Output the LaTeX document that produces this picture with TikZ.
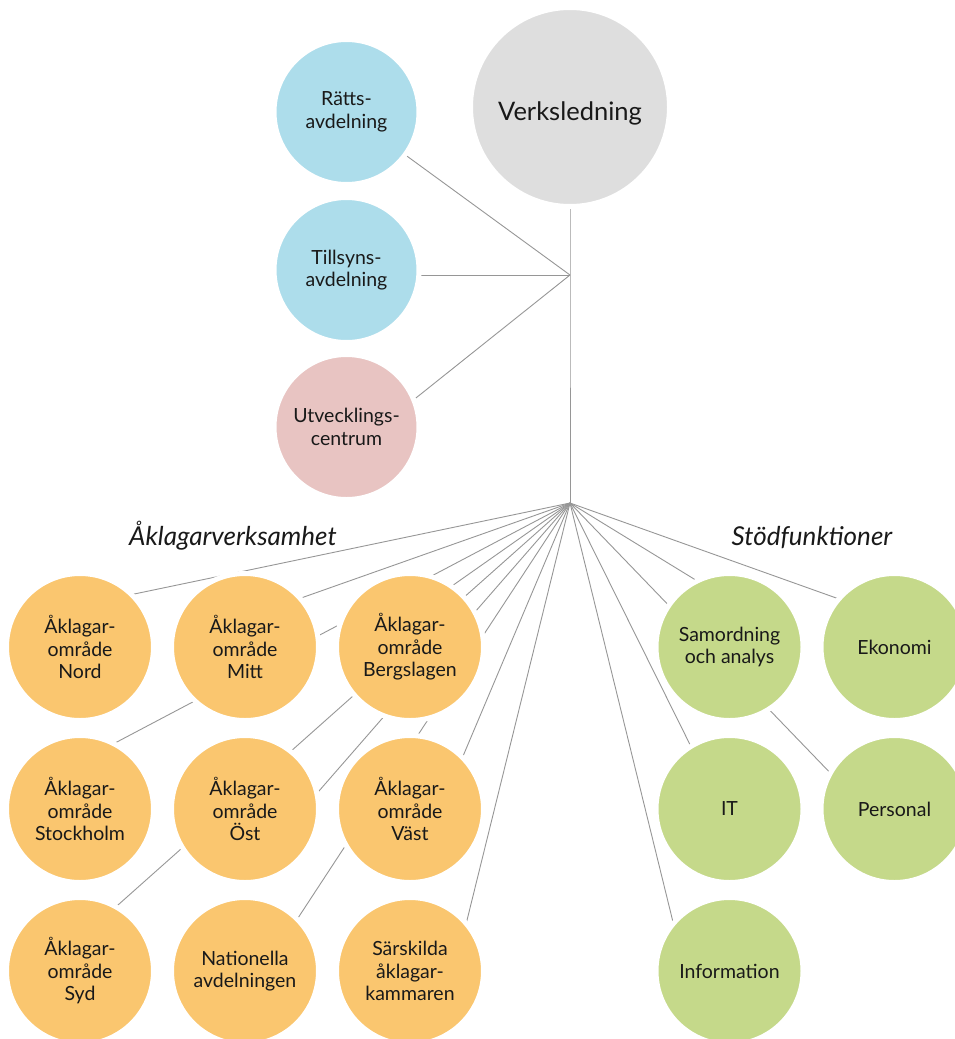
\documentclass[tikz,border=0pt]{standalone}
\usepackage{fontspec}
\setmainfont{Lato}
\usetikzlibrary{positioning,calc,backgrounds}

\definecolor{blaa}{RGB}{173,221,235}
\definecolor{rosa}{RGB}{232,196,194}
\definecolor{graa}{RGB}{222,222,222}
\definecolor{orange}{RGB}{250,198,111}
\definecolor{groen}{RGB}{197,217,138}
\definecolor{linjegraa}{RGB}{150,150,150}
\definecolor{textsvart}{RGB}{25,25,25}

\tikzset{
	enhet/.style={circle, draw=white, line width=5pt, outer sep=0pt, inner sep=0pt,
		align=center, text=textsvart, font=\fontsize{19.5}{22.5}\selectfont},
	stab/.style={enhet, fill=blaa, minimum size=145pt},
	aklnod/.style={enhet, fill=orange, minimum size=147pt},
	stodnod/.style={enhet, fill=groen, minimum size=147pt},
	linje/.style={draw=linjegraa, line width=0.9pt},
	rubrik/.style={text=textsvart, font=\fontsize{26}{30}\selectfont\itshape}
}

\begin{document}
\begin{tikzpicture}[x=1pt,y=-1pt]
	\useasboundingbox (0,0) rectangle (955,1039);

	\node[enhet, fill=graa, minimum size=199pt, text height=27pt, text depth=0pt,
		font=\fontsize{25.5}{30}\selectfont] (verk) at (570,107) {Verksledning};

	\node[stab] (ratt) at (346.5,112) {Rätts-\\avdelning};
	\node[stab, below=13pt of ratt] (tillsyn) {Tillsyns-\\avdelning};
	\node[stab, fill=rosa, below=12pt of tillsyn] (utv) {Utvecklings-\\centrum};

	\coordinate (stabnav) at (570,275);
	\coordinate (nav) at (570,503);

	\node[rubrik, anchor=base] (aklrubrik) at (233,545) {Åklagarverksamhet};
	\node[rubrik, anchor=base] (stodrubrik) at (812,545) {Stödfunktioner};

	\node[aklnod] (nord) at (80,647) {Åklagar-\\område\\Nord};
	\node[aklnod, right=18pt of nord] (mitt) {Åklagar-\\område\\Mitt};
	\node[aklnod, right=18pt of mitt] (berg) {Åklagar-\\område\\Bergslagen};
	\node[aklnod, below=15pt of nord] (sthlm) {Åklagar-\\område\\Stockholm};
	\node[aklnod, below=15pt of mitt] (ost) {Åklagar-\\område\\Öst};
	\node[aklnod, below=15pt of berg] (vast) {Åklagar-\\område\\Väst};
	\node[aklnod, below=15pt of sthlm] (syd) {Åklagar-\\område\\Syd};
	\node[aklnod, below=15pt of ost] (nat) {Nationella\\avdelningen};
	\node[aklnod, below=15pt of vast] (sark) {Särskilda\\åklagar-\\kammaren};

	\node[stodnod] (samord) at (729.5,647) {Samordning\\och analys};
	\node[stodnod, right=18pt of samord] (ekonomi) {Ekonomi};
	\node[stodnod, below=15pt of samord] (it) {IT};
	\node[stodnod, below=15pt of ekonomi] (personal) {Personal};
	\node[stodnod, below=15pt of it] (info) {Information};

	\begin{scope}[on background layer]
		\draw[linje] (verk.center) -- (stabnav) -- (nav);
		\draw[linje] (stabnav) -- (ratt.center);
		\draw[linje] (stabnav) -- ($(tillsyn.center)+(0,5)$);
		\draw[linje] (stabnav) -- ($(utv.center)+(13,16)$);

		\draw[linje] (nav) -- ($(nord.center)+(-8,-40)$);
		\draw[linje] (nav) -- ($(mitt.center)+(-9,-26)$);
		\draw[linje] (nav) -- ($(sthlm.center)+(-20,-37)$);
		\draw[linje] (nav) -- ($(berg.center)+(-15,-21)$);
		\draw[linje] (nav) -- ($(syd.center)+(-16,-18)$);
		\draw[linje] (nav) -- ($(ost.center)+(33,29)$);
		\draw[linje] (nav) -- ($(nat.center)+(13,8)$);
		\draw[linje] (nav) -- ($(vast.center)+(26,11)$);
		\draw[linje] (nav) -- ($(sark.center)+(42,10)$);

		\draw[linje] (nav) -- ($(samord.center)+(20,-34)$);
		\draw[linje] (nav) -- ($(ekonomi.center)+(9,-25)$);
		\draw[linje] (nav) -- ($(personal.center)+(-15,15)$);
		\draw[linje] (nav) -- ($(it.center)+(-6,3)$);
		\draw[linje] (nav) -- ($(info.center)+(-42,10)$);
	\end{scope}
\end{tikzpicture}
\end{document}
